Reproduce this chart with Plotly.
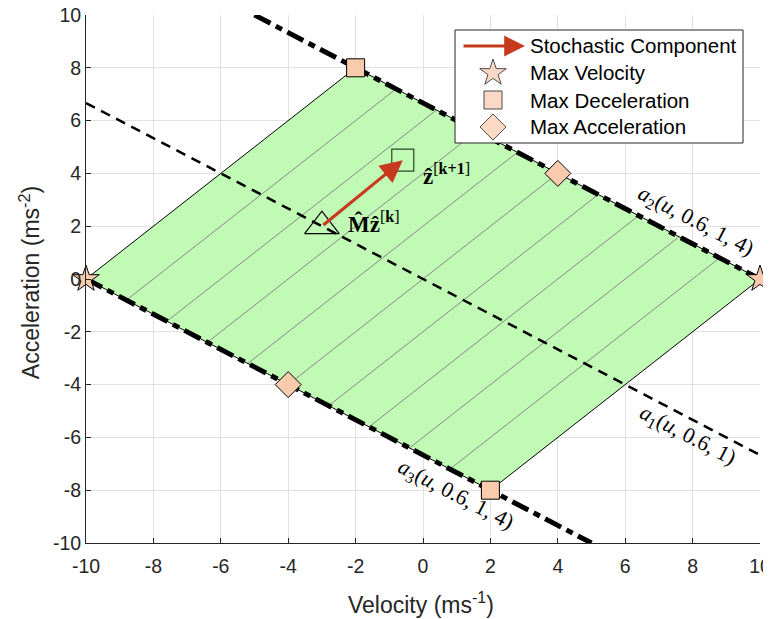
import plotly.graph_objects as go

# ---- data ----
region_x = [-10, -2, 10, 2, -10]
region_y = [0, 8, 0, -8, 0]

hatch_x0 = [-8.8, -7.6, -6.4, -5.2, -4.0, -2.8, -1.6, -0.4, 0.8]
hatch_y0 = [-0.8, -1.6, -2.4, -3.2, -4.0, -4.8, -5.6, -6.4, -7.2]
hatch_x1 = [-0.8, 0.4, 1.6, 2.8, 4.0, 5.2, 6.4, 7.6, 8.8]
hatch_y1 = [7.2, 6.4, 5.6, 4.8, 4.0, 3.2, 2.4, 1.6, 0.8]

a1_x = [-10, 10]
a1_y = [6.667, -6.667]
a2_x = [-5, 10]
a2_y = [10, 0]
a3_x = [-10, 5]
a3_y = [0, -10]

vel_x = [-10, 10]
vel_y = [0, 0]
dec_x = [-2, 2]
dec_y = [8, -8]
acc_x = [4, -4]
acc_y = [4, -4]

pred_pt = (-3.0, 2.0)     # M z[k]
next_pt = (-0.6, 4.5)     # z[k+1]

x_ticks = [-10, -8, -6, -4, -2, 0, 2, 4, 6, 8, 10]
y_ticks = [-10, -8, -6, -4, -2, 0, 2, 4, 6, 8, 10]

legend_labels = ["Stochastic Component", "Max Velocity", "Max Deceleration", "Max Acceleration"]

# ---- style ----
GREEN = "rgb(192,250,180)"
PEACH = "rgb(250,202,172)"
RED = "rgb(200,58,32)"
FONT = "Liberation Sans, Arial, sans-serif"
SERIF = "Liberation Serif, DejaVu Serif, serif"
DARK = "rgb(38,38,38)"

fig = go.Figure()

fig.add_trace(go.Scatter(x=region_x, y=region_y, fill="toself", fillcolor=GREEN,
                         mode="lines", line=dict(color="rgba(0,0,0,0)", width=0),
                         showlegend=False, hoverinfo="skip"))

hx, hy = [], []
for a, b, c, d in zip(hatch_x0, hatch_y0, hatch_x1, hatch_y1):
    hx += [a, c, None]
    hy += [b, d, None]
fig.add_trace(go.Scatter(x=hx, y=hy, mode="lines", line=dict(color="rgb(135,135,135)", width=1),
                         showlegend=False, hoverinfo="skip"))

fig.add_trace(go.Scatter(x=region_x, y=region_y, mode="lines", line=dict(color="black", width=1),
                         showlegend=False, hoverinfo="skip"))

fig.add_trace(go.Scatter(x=a1_x, y=a1_y, mode="lines",
                         line=dict(color="black", width=2.5, dash="10px,7px"),
                         showlegend=False, hoverinfo="skip"))
for lx, ly in [(a2_x, a2_y), (a3_x, a3_y)]:
    fig.add_trace(go.Scatter(x=lx, y=ly, mode="lines",
                             line=dict(color="black", width=5, dash="18px,6px,7px,6px"),
                             showlegend=False, hoverinfo="skip"))

mk_line = dict(color="black", width=1)
fig.add_trace(go.Scatter(x=vel_x, y=vel_y, mode="markers", cliponaxis=False,
                         marker=dict(symbol="star", size=20, color=PEACH, line=mk_line),
                         showlegend=False))
fig.add_trace(go.Scatter(x=dec_x, y=dec_y, mode="markers", cliponaxis=False,
                         marker=dict(symbol="square", size=18, color=PEACH, line=mk_line),
                         showlegend=False))
fig.add_trace(go.Scatter(x=acc_x, y=acc_y, mode="markers", cliponaxis=False,
                         marker=dict(symbol="diamond", size=20, color=PEACH, line=mk_line),
                         showlegend=False))

# predicted / next state markers
fig.add_trace(go.Scatter(x=[pred_pt[0]], y=[pred_pt[1]], mode="markers",
                         marker=dict(symbol="triangle-up-open", size=30, color="black",
                                     line=dict(width=1.2)),
                         showlegend=False))
fig.add_trace(go.Scatter(x=[next_pt[0]], y=[next_pt[1]], mode="markers",
                         marker=dict(symbol="square-open", size=22, color="rgb(40,70,40)",
                                     line=dict(width=1.2)),
                         showlegend=False))

# arrow for stochastic component
fig.add_annotation(x=next_pt[0], y=next_pt[1], ax=pred_pt[0], ay=pred_pt[1],
                   xref="x", yref="y", axref="x", ayref="y", text="",
                   showarrow=True, arrowhead=2, arrowsize=1.4, arrowwidth=3.2, arrowcolor=RED)

fig.add_annotation(x=-2.28, y=2.15, xref="x", yref="y", xanchor="left", yanchor="middle",
                   text="<b>M\u0302\u1e91</b><sup>[<b>k</b>]</sup>", showarrow=False,
                   font=dict(family=SERIF, size=23, color="black"))
fig.add_annotation(x=-0.05, y=3.95, xref="x", yref="y", xanchor="left", yanchor="middle",
                   text="<b>\u1e91</b><sup>[<b>k+1</b>]</sup>", showarrow=False,
                   font=dict(family=SERIF, size=23, color="black"))

# constraint labels
lab_font = dict(family=SERIF, size=22, color="black")
fig.add_annotation(x=8.1, y=2.15, xref="x", yref="y", textangle=27.5, showarrow=False,
                   text="<i>a</i><sub>2</sub>(<i>u</i>, 0.6, 1, 4)", font=lab_font)
fig.add_annotation(x=7.85, y=-5.95, xref="x", yref="y", textangle=27.5, showarrow=False,
                   text="<i>a</i><sub>1</sub>(<i>u</i>, 0.6, 1)", font=lab_font)
fig.add_annotation(x=0.95, y=-8.2, xref="x", yref="y", textangle=27.5, showarrow=False,
                   text="<i>a</i><sub>3</sub>(<i>u</i>, 0.6, 1, 4)", font=lab_font)

# ---- manual legend (overlay axes spanning [0,1], drawn above the data) ----
box_x = [0.5475, 0.9748, 0.9748, 0.5475, 0.5475]
box_y = [0.7576, 0.7576, 0.9716, 0.9716, 0.7576]
fig.add_trace(go.Scatter(x=box_x, y=box_y, xaxis="x2", yaxis="y2", mode="lines",
                         fill="toself", fillcolor="white", line=dict(color=DARK, width=1),
                         showlegend=False, hoverinfo="skip"))
rows = [0.9413, 0.8902, 0.8390, 0.7879]
sym_x = 0.6039
text_x = 0.6558
fig.add_annotation(x=0.6513, y=rows[0], ax=0.5579, ay=rows[0], xref="x2", yref="y2",
                   axref="x2", ayref="y2", text="", showarrow=True, arrowhead=2,
                   arrowsize=1.3, arrowwidth=3.2, arrowcolor=RED)
for r, lab in zip(rows, legend_labels):
    fig.add_annotation(x=text_x, y=r, xref="x2", yref="y2", xanchor="left", yanchor="middle",
                       text=lab, showarrow=False, font=dict(family=FONT, size=20.5, color="black"))
fig.add_trace(go.Scatter(x=[sym_x, sym_x, sym_x], y=rows[1:], xaxis="x2", yaxis="y2",
                         mode="markers", showlegend=False, hoverinfo="skip",
                         marker=dict(symbol=["star", "square", "diamond"], size=[20, 18, 20],
                                     color=PEACH, line=mk_line)))

# axis titles
title_font = dict(family=FONT, size=23, color=DARK)
fig.add_annotation(x=0.497, y=-0.1136, xref="paper", yref="paper", showarrow=False,
                   xanchor="center", yanchor="middle", text="Velocity (ms<sup>-1</sup>)", font=title_font)
fig.add_annotation(x=-0.0831, y=0.494, xref="paper", yref="paper", showarrow=False, textangle=-90,
                   xanchor="center", yanchor="middle", text="Acceleration (ms<sup>-2</sup>)", font=title_font)

axis_common = dict(showgrid=True, gridcolor="rgb(225,225,225)", gridwidth=1,
                   zeroline=False, showline=True, linecolor=DARK, linewidth=1,
                   ticks="inside", ticklen=5, tickcolor=DARK, automargin=False,
                   ticklabeloverflow="allow",
                   tickfont=dict(family=FONT, size=19.5, color=DARK))

fig.update_layout(
    width=771, height=611,
    margin=dict(l=78, r=19, t=7, b=76),
    plot_bgcolor="white", paper_bgcolor="white",
    showlegend=False,
    xaxis=dict(range=[-10, 10], tickvals=x_ticks, ticktext=[str(v) for v in x_ticks],
               ticklabelstandoff=6, **axis_common),
    yaxis=dict(range=[-10, 10], tickvals=y_ticks, ticktext=[str(v) for v in y_ticks],
               **axis_common),
    xaxis2=dict(range=[0, 1], overlaying="x", visible=False, fixedrange=True),
    yaxis2=dict(range=[0, 1], overlaying="y", visible=False, fixedrange=True),
)

fig.write_html("out.html")
